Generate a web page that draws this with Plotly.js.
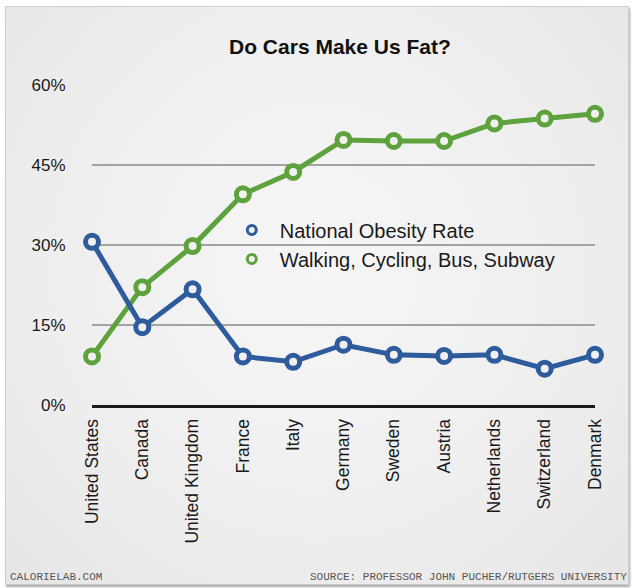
<!DOCTYPE html>
<html>
<head>
<meta charset="utf-8">
<script src="https://cdn.plot.ly/plotly-3.0.1.min.js"></script>
<style>
  html, body { margin: 0; padding: 0; background: #ffffff; }
  #frame {
    position: absolute; left: 5px; top: 6px; width: 622px; height: 577px;
    border: 1px solid #cfcfcf;
    background: radial-gradient(ellipse at 50% 45%, #f6f6f6 0%, #efefef 55%, #e6e6e6 100%);
    box-shadow: 1px 2px 2px rgba(0,0,0,0.35);
  }
  #chart { position: absolute; left: 0; top: 0; width: 633px; height: 588px; }
</style>
</head>
<body>
<div id="frame"></div>
<div id="chart"></div>
<script>
const countries = ["United States", "Canada", "United Kingdom", "France", "Italy", "Germany",
                   "Sweden", "Austria", "Netherlands", "Switzerland", "Denmark"];
const obesityRate = [30.6, 14.6, 21.7, 9.1, 8.1, 11.3, 9.4, 9.2, 9.4, 6.8, 9.4];
const activeTransport = [9.1, 22.1, 29.8, 39.5, 43.7, 49.7, 49.5, 49.5, 52.8, 53.7, 54.6];
const seriesNames = ["National Obesity Rate", "Walking, Cycling, Bus, Subway"];
const yTickVals = [0, 15, 30, 45, 60];
const yTickText = ["0%", "15%", "30%", "45%", "60%"];

const blue = "#2d5b9c";
const green = "#5da23c";
const bgFill = "#f1f1f1";
const xIdx = countries.map((c, i) => i);

function lineTrace(vals, color) {
  return {
    x: xIdx, y: vals, type: "scatter", mode: "lines+markers",
    line: { color: color, width: 5 },
    marker: { symbol: "circle", size: 13, color: bgFill, line: { color: color, width: 5 } },
    cliponaxis: false, showlegend: false, hoverinfo: "skip"
  };
}
function legendTrace(name, color) {
  return {
    x: [null], y: [null], type: "scatter", mode: "markers", name: name,
    marker: { symbol: "circle", size: 9, color: bgFill, line: { color: color, width: 3 } },
    showlegend: true
  };
}

const data = [
  lineTrace(activeTransport, green),
  lineTrace(obesityRate, blue),
  legendTrace(seriesNames[0], blue),
  legendTrace(seriesNames[1], green)
];

const footY = -(577 - 405) / 320;

const layout = {
  width: 633, height: 588,
  margin: { l: 92, r: 38, t: 85, b: 183 },
  paper_bgcolor: "rgba(0,0,0,0)",
  plot_bgcolor: "rgba(0,0,0,0)",
  font: { family: "Liberation Sans, Arial, sans-serif", color: "#1a1a1a" },
  title: {
    text: "<b>Do Cars Make Us Fat?</b>",
    font: { size: 21, color: "#111" },
    x: 0.537, xref: "container", xanchor: "center",
    y: 1 - 47 / 588, yref: "container", yanchor: "middle"
  },
  xaxis: {
    range: [0, 10], tickvals: xIdx, ticktext: countries, tickangle: -90,
    ticks: "outside", ticklen: 4, tickcolor: "rgba(0,0,0,0)",
    showgrid: false, zeroline: false,
    showline: true, linecolor: "#1a1a1a", linewidth: 3,
    tickfont: { size: 17.5, color: "#1a1a1a" }, fixedrange: true
  },
  yaxis: {
    range: [0, 60], tickvals: yTickVals, ticktext: yTickText,
    ticks: "outside", ticklen: 22, tickcolor: "rgba(0,0,0,0)",
    showgrid: true, gridcolor: "#a3a3a3", gridwidth: 1.5,
    zeroline: false, showline: false,
    tickfont: { size: 17, color: "#1a1a1a" }, fixedrange: true
  },
  legend: {
    x: 0.262, y: 0.608, xanchor: "left", yanchor: "top",
    bgcolor: "rgba(0,0,0,0)", borderwidth: 0,
    font: { size: 20, color: "#1a1a1a" },
    itemwidth: 46, tracegroupgap: 0
  },
  annotations: [
    { text: "CALORIELAB.COM", xref: "paper", yref: "paper",
      x: (8 - 92) / 503, y: footY,
      xanchor: "left", yanchor: "middle", showarrow: false,
      font: { family: "Liberation Mono, DejaVu Sans Mono, monospace", size: 11, color: "#555" } },
    { text: "SOURCE: PROFESSOR JOHN PUCHER/RUTGERS UNIVERSITY", xref: "paper", yref: "paper",
      x: (629 - 92) / 503, y: footY,
      xanchor: "right", yanchor: "middle", showarrow: false,
      font: { family: "Liberation Mono, DejaVu Sans Mono, monospace", size: 11, color: "#555" } }
  ]
};

Plotly.newPlot("chart", data, layout, { displayModeBar: false, staticPlot: true });
</script>
</body>
</html>
